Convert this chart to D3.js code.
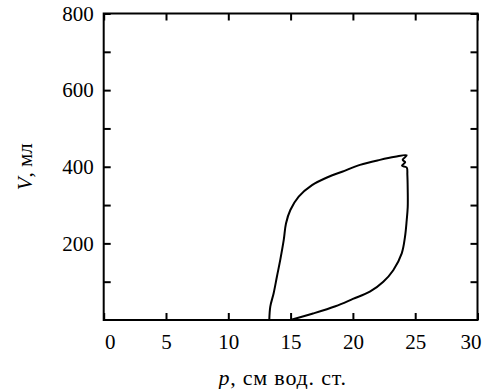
<!DOCTYPE html>
<html>
<head>
<meta charset="utf-8">
<script src="https://cdn.jsdelivr.net/npm/d3@7/dist/d3.min.js"></script>
<style>
  body { margin: 0; background: #fff; }
  svg { display: block; }
</style>
</head>
<body>
<div id="chart"></div>
<script>
// Pressure-volume loop
const pressure = [13.29, 13.37, 13.64, 13.9, 14.17, 14.45, 14.63, 14.98, 15.65, 16.72, 18.06, 19.13, 20.57, 22.17, 23.38, 24.32,
                  24.0, 24.2, 23.94, 24.32, 24.37, 24.4, 24.4, 24.32, 24.18, 23.92, 23.24, 22.44, 21.36, 20.0, 18.6, 16.8, 14.98];
const volume   = [0, 35, 70, 113, 157, 209, 252, 287, 322, 352, 374, 387, 405, 418, 426, 430,
                  418, 412, 403, 398, 379, 339, 295, 261, 217, 174, 130, 100, 74, 55, 36, 17, 0];

const xTicks = [0, 5, 10, 15, 20, 25, 30];
const yTicks = [100, 200, 300, 400, 500, 600, 700, 800];
const yLabelled = [200, 400, 600, 800];
const xTitle = "см вод. ст.";
const yTitle = "мл";

const FONT = "Liberation Serif, Tinos, Times New Roman, serif";

const W = 482, H = 389;
const margin = {top: 13.5, right: 4.5, bottom: 69, left: 103.7};
const width = W - margin.left - margin.right,
      height = H - margin.top - margin.bottom;

const svg = d3.select("#chart").append("svg").attr("width", W).attr("height", H)
  .style("font-family", FONT);
const g = svg.append("g").attr("transform", `translate(${margin.left},${margin.top})`);

const x = d3.scaleLinear().domain([0, 30]).range([0, width]);
const y = d3.scaleLinear().domain([0, 800]).range([height, 0]);

// axes with inward ticks on all four sides
const tickLen = 7;
const styleAxis = (sel, showLabels) => {
  sel.attr("font-family", FONT);
  sel.select(".domain").remove();
  sel.selectAll(".tick line").attr("stroke", "#000").attr("stroke-width", 2);
  sel.selectAll(".tick text").attr("fill", "#000")
    .style("font-family", FONT).style("font-size", "21px");
  if (!showLabels) sel.selectAll(".tick text").remove();
};

const xAxis = g.append("g").attr("transform", `translate(0,${height})`)
  .call(d3.axisBottom(x).tickValues(xTicks).tickSizeInner(-tickLen).tickSizeOuter(0).tickPadding(14))
  .call(s => styleAxis(s, true));
// end labels sit inside the frame a little, as in the original
xAxis.selectAll(".tick text").attr("dx", d => d === 0 ? 6 : d === 30 ? -7 : 0);

g.append("g")
  .call(d3.axisTop(x).tickValues(xTicks).tickSizeInner(-tickLen).tickSizeOuter(0))
  .call(s => styleAxis(s, false));
g.append("g")
  .call(d3.axisLeft(y).tickValues(yTicks).tickSizeInner(-tickLen).tickSizeOuter(0).tickPadding(10)
    .tickFormat(d => yLabelled.includes(d) ? d : ""))
  .call(s => styleAxis(s, true));
g.append("g").attr("transform", `translate(${width},0)`)
  .call(d3.axisRight(y).tickValues(yTicks).tickSizeInner(-tickLen).tickSizeOuter(0))
  .call(s => styleAxis(s, false));

// frame
g.append("rect")
  .attr("x", 0).attr("y", 0).attr("width", width).attr("height", height)
  .attr("fill", "none").attr("stroke", "#000").attr("stroke-width", 2);

// the loop
const pts = pressure.map((p, i) => [p, volume[i]]);
const line = d3.line().x(d => x(d[0])).y(d => y(d[1])).curve(d3.curveCatmullRom.alpha(0.5));
g.append("path")
  .datum(pts)
  .attr("d", line)
  .attr("fill", "none")
  .attr("stroke", "#000")
  .attr("stroke-width", 2)
  .attr("stroke-linejoin", "round");

// axis titles
const xt = svg.append("text")
  .attr("x", margin.left + width / 2 - 8)
  .attr("y", H - 4)
  .attr("text-anchor", "middle")
  .style("font-family", FONT)
  .style("font-size", "22px")
  .style("letter-spacing", "0.8px");
xt.append("tspan").style("font-style", "italic").text("p");
xt.append("tspan").text(", " + xTitle);

const yt = svg.append("text")
  .attr("transform", `translate(32,${margin.top + height / 2}) rotate(-90)`)
  .attr("text-anchor", "middle")
  .style("font-family", FONT)
  .style("font-size", "21px");
yt.append("tspan").style("font-style", "italic").text("V");
yt.append("tspan").text(", " + yTitle);
</script>
</body>
</html>
